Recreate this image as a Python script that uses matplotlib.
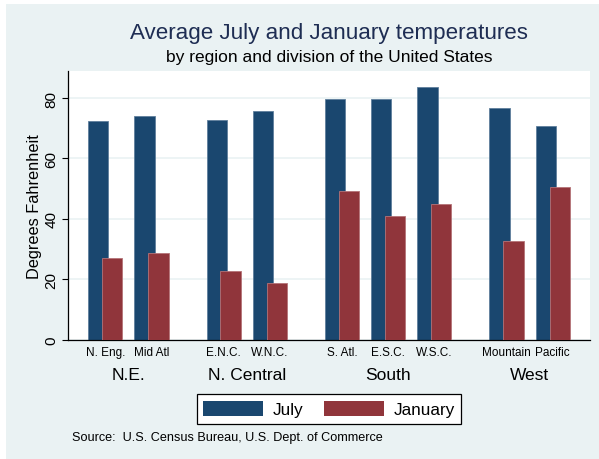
import matplotlib
matplotlib.use('Agg')
import matplotlib.pyplot as plt
import matplotlib.transforms as mtransforms
from matplotlib.patches import Rectangle, Patch

plt.rcParams['font.family'] = ['Liberation Sans', 'DejaVu Sans']

divisions = ['N. Eng.', 'Mid Atl', 'E.N.C.', 'W.N.C.', 'S. Atl.', 'E.S.C.', 'W.S.C.', 'Mountain', 'Pacific']
regions = ['N.E.', 'N. Central', 'South', 'West']
region_of = [0, 0, 1, 1, 2, 2, 2, 3, 3]
july = [72.4, 74.2, 72.8, 75.7, 79.8, 79.7, 83.6, 76.6, 70.8]
january = [26.9, 28.6, 22.7, 18.6, 49.2, 40.9, 45.0, 32.7, 50.5]

BG = '#EAF2F3'
C_JULY = '#1A476F'
C_JAN = '#90353B'

gap = 0.56
xs = [i + r * gap for i, r in enumerate(region_of)]

fig = plt.figure(figsize=(5.99, 4.6), dpi=100, facecolor='white')
fig.patches.append(Rectangle((6 / 599, 0), 1, 455 / 460, transform=fig.transFigure,
                             facecolor=BG, edgecolor='none', zorder=-10))

ax = fig.add_axes([68 / 599, 1 - 340.5 / 460, (590 - 68) / 599, (340.5 - 72) / 460])
ax.set_facecolor('white')

w = 0.438
off = 0.15
ax.bar([x - off for x in xs], july, width=w, color=C_JULY, edgecolor='#5F7F9C', linewidth=0.6, zorder=2)
ax.bar([x + off for x in xs], january, width=w, color=C_JAN, edgecolor='#B47378', linewidth=0.6, zorder=3)

ax.set_xlim(xs[0] - 0.806, xs[-1] + 0.806)
ax.set_ylim(0, 89)
ax.set_yticks([0, 20, 40, 60, 80])
ax.tick_params(axis='y', labelsize=11, length=4, width=0.8, labelrotation=90, pad=3)
for lab in ax.get_yticklabels():
    lab.set_va('center')
ax.grid(axis='y', color=BG, linewidth=1.2, zorder=0)
ax.set_axisbelow(True)

ax.set_xticks(xs)
ax.set_xticklabels(divisions, fontsize=8.5)
ax.tick_params(axis='x', length=0, pad=5)

for s in ['top', 'right']:
    ax.spines[s].set_visible(False)
ax.spines['left'].set_linewidth(0.9)
ax.spines['bottom'].set_linewidth(0.9)

ax.set_ylabel('Degrees Fahrenheit', fontsize=11.8, labelpad=2)

trans = mtransforms.blended_transform_factory(ax.transData, ax.transAxes)
for r, name in enumerate(regions):
    pos = [x for x, rr in zip(xs, region_of) if rr == r]
    ax.text(sum(pos) / len(pos), -0.132, name, transform=trans, ha='center', va='center', fontsize=12.5)

fig.text(329 / 599, 1 - 33 / 460, 'Average July and January temperatures', ha='center', va='center',
         fontsize=16.1, color='#1E2D53')
fig.text(329 / 599, 1 - 58 / 460, 'by region and division of the United States', ha='center', va='center',
         fontsize=12.5)

handles = [Patch(facecolor=C_JULY, edgecolor='none', label='July'),
           Patch(facecolor=C_JAN, edgecolor='none', label='January')]
leg = fig.legend(handles=handles, loc='center', bbox_to_anchor=(329 / 599, 1 - 410 / 460), ncol=2,
                 fontsize=12.3, frameon=True, fancybox=False, edgecolor='black', framealpha=1,
                 handlelength=3.5, handleheight=1.0, columnspacing=1.25, handletextpad=0.55,
                 borderpad=0.38, borderaxespad=0)
leg.get_frame().set_linewidth(0.9)

fig.text(72 / 599, 1 - 438 / 460, 'Source:  U.S. Census Bureau, U.S. Dept. of Commerce', ha='left', va='center',
         fontsize=9.1)

fig.savefig('out.png', dpi=100, facecolor=fig.get_facecolor())
